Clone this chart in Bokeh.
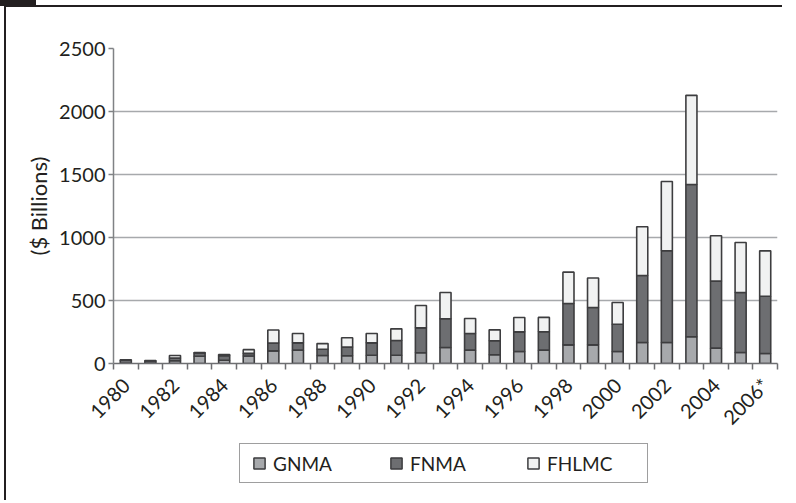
from bokeh.plotting import figure
from bokeh.layouts import column
from bokeh.models import ColumnDataSource, FixedTicker, Legend, LegendItem
from bokeh.embed import file_html
from bokeh.resources import INLINE

# ---- data ----
years = list(range(1980, 2007))
gnma = [2, 2, 22, 58, 26, 60, 100, 106, 63, 61, 66, 66, 85, 127, 106, 69,
        95, 106, 148, 148, 95, 167, 167, 212, 122, 87, 79]
fnma = [24, 18, 21, 26, 35, 20, 63, 58, 50, 69, 98, 116, 198, 228, 132, 111,
        156, 146, 328, 296, 217, 532, 728, 1209, 532, 476, 455]
fhlmc = [4, 4, 20, 3, 10, 30, 103, 74, 45, 74, 74, 93, 177, 209, 119, 87,
         114, 114, 249, 235, 172, 386, 550, 707, 360, 397, 360]
series = ["GNMA", "FNMA", "FHLMC"]
x_tick_years = list(range(1980, 2007, 2))
x_tick_labels = {y: str(y) for y in x_tick_years}
x_tick_labels[2006] = "2006*"
y_ticks = [0, 500, 1000, 1500, 2000, 2500]

FONT = "Lato"
TEXT = "#231f20"
OUTLINE = "#3d3d3f"
colors = ["#a7a9ac", "#6d6e71", "#f1f2f2"]

source = ColumnDataSource(dict(year=years, GNMA=gnma, FNMA=fnma, FHLMC=fhlmc))

# ---------------- main chart ----------------
p = figure(width=790, height=440, x_range=(1979.5, 2006.5), y_range=(0, 2500),
           output_backend="svg", toolbar_location=None,
           min_border_left=113, min_border_right=13, min_border_top=48,
           min_border_bottom=77)
p.outline_line_color = None
p.background_fill_color = "white"
p.border_fill_color = None

p.vbar_stack(series, x="year", width=0.45, source=source,
             fill_color=colors, line_color=OUTLINE, line_width=1.6)

p.yaxis.ticker = FixedTicker(ticks=y_ticks)
p.yaxis.axis_label = "($ Billions)"
p.yaxis.axis_label_text_font = FONT
p.yaxis.axis_label_text_font_size = "22px"
p.yaxis.axis_label_text_font_style = "normal"
p.yaxis.axis_label_text_color = TEXT
p.yaxis.axis_label_standoff = 4
p.yaxis.major_label_text_font = FONT
p.yaxis.major_label_text_font_size = "20px"
p.yaxis.major_label_text_color = TEXT
p.yaxis.major_label_standoff = 3
p.yaxis.major_tick_out = 5
p.yaxis.major_tick_in = 0
p.yaxis.minor_tick_line_color = None
p.yaxis.axis_line_color = "#808285"
p.yaxis.axis_line_width = 1.5
p.yaxis.major_tick_line_color = "#808285"
p.yaxis.major_tick_line_width = 1.5

minor = [y - 0.5 for y in years] + [years[-1] + 0.5]
p.xaxis.ticker = FixedTicker(ticks=x_tick_years, minor_ticks=minor)
p.xaxis.major_label_overrides = x_tick_labels
p.xaxis.major_label_orientation = 0.785398
p.xaxis.major_label_text_font = FONT
p.xaxis.major_label_text_font_size = "20px"
p.xaxis.major_label_text_color = TEXT
p.xaxis.major_label_standoff = 12
p.xaxis.major_tick_line_color = None
p.xaxis.major_tick_out = 6
p.xaxis.minor_tick_line_color = "#6d6e71"
p.xaxis.minor_tick_line_width = 1.5
p.xaxis.minor_tick_out = 6
p.xaxis.minor_tick_in = 0
p.xaxis.axis_line_color = "#6d6e71"
p.xaxis.axis_line_width = 1.5

p.xgrid.grid_line_color = None
p.ygrid.grid_line_color = "#a7a9ac"
p.ygrid.grid_line_width = 1.5

# ---------------- legend strip ----------------
leg = figure(width=790, height=60, output_backend="svg", toolbar_location=None,
             x_axis_location=None, y_axis_location=None,
             min_border=0, x_range=(0, 1), y_range=(0, 1))
leg.outline_line_color = None
leg.background_fill_color = None
leg.border_fill_color = None
leg.xgrid.grid_line_color = None
leg.ygrid.grid_line_color = None
# swatch renderers (their points fall outside this strip's ranges; only the
# legend swatches are seen)
swatches = [leg.scatter(x="year", y=s, source=source, marker="square", size=11,
                        fill_color=c, line_color=OUTLINE, line_width=1.5)
            for s, c in zip(series, colors)]

legend = Legend(items=[LegendItem(label=s, renderers=[r]) for s, r in zip(series, swatches)],
                orientation="horizontal", location=(126, 17))
legend.label_text_font = FONT
legend.label_text_font_size = "19px"
legend.label_text_color = TEXT
legend.glyph_width = 28
legend.glyph_height = 28
legend.label_height = 28
legend.label_width = 95
legend.label_standoff = -4
legend.spacing = 14
legend.padding = 5
legend.margin = 0
legend.border_line_color = OUTLINE
legend.border_line_width = 1.5
legend.background_fill_color = "white"
legend.background_fill_alpha = 1
leg.add_layout(legend, "center")

layout = column(p, leg, spacing=0)

# page frame (decorative): black tab, left and top rules, seen through the
# transparent border areas of the canvases
g = "linear-gradient(#231f20,#231f20)"
layout.styles = {
    "background-image": f"{g}, {g}, {g}",
    "background-size": "36px 6px, 2px 100%, 778px 2px",
    "background-position": "0px 0px, 4px 0px, 4px 5px",
    "background-repeat": "no-repeat",
}

open("out.html", "w").write(file_html(layout, INLINE))
